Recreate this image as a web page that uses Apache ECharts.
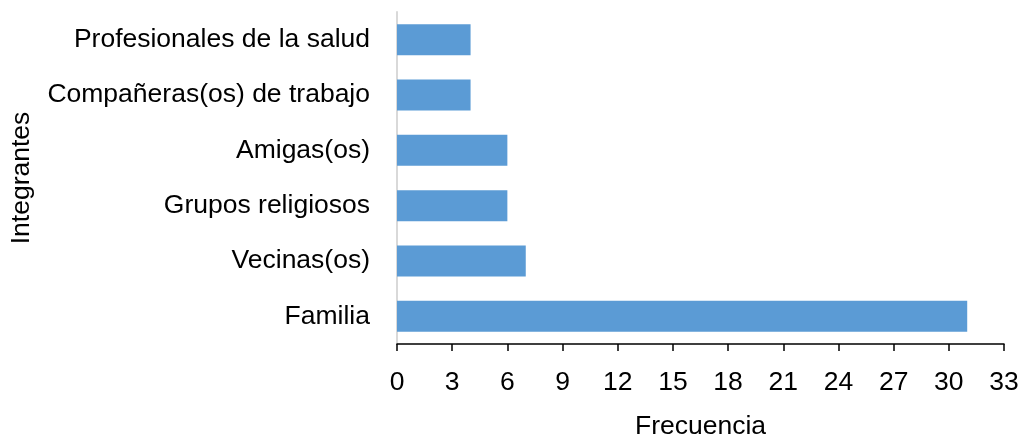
<!DOCTYPE html>
<html>
<head>
<meta charset="utf-8">
<script src="https://cdn.jsdelivr.net/npm/echarts@6/dist/echarts.min.js"></script>
<style>
  html, body { margin: 0; padding: 0; background: #fff; }
  #main { width: 1021px; height: 436px; }
</style>
</head>
<body>
<!-- contenedor del gráfico -->
<div id="main"></div>
<script>
  // categorías de abajo hacia arriba
  var categorias = ['Familia', 'Vecinas(os)', 'Grupos religiosos', 'Amigas(os)',
    'Compañeras(os) de trabajo', 'Profesionales de la salud'];
  var frecuencias = [31, 7, 6, 6, 4, 4];

  var fuente = 'Liberation Sans';
  var tam = 26.5;
  var myChart = echarts.init(document.getElementById('main'));
  myChart.setOption({
    backgroundColor: '#fff',
    animation: false,
    grid: { left: 397, right: 17, top: 12, bottom: 92, outerBoundsMode: 'none', containLabel: false },
    // eje x (frecuencia)
    xAxis: {
      type: 'value',
      min: 0,
      max: 33,
      interval: 3,
      name: 'Frecuencia',
      nameLocation: 'middle',
      nameGap: 69,
      nameTextStyle: { fontFamily: fuente, fontSize: tam, color: '#000' },
      axisLine: { show: true, lineStyle: { color: '#000', width: 1.5 } },
      axisTick: { show: true, length: 7, lineStyle: { color: '#000', width: 1.5 } },
      axisLabel: { margin: 25, fontFamily: fuente, fontSize: tam, color: '#000' },
      splitLine: { show: false }
    },
    // eje y (integrantes)
    yAxis: {
      type: 'category',
      data: categorias,
      name: 'Integrantes',
      nameLocation: 'middle',
      nameGap: 362,
      nameRotate: 90,
      nameTextStyle: { fontFamily: fuente, fontSize: tam, color: '#000' },
      axisLine: { show: true, lineStyle: { color: '#d9d9d9', width: 2 } },
      axisTick: { show: false },
      axisLabel: { margin: 27, fontFamily: fuente, fontSize: tam, color: '#000' }
    },
    series: [{
      type: 'bar',
      data: frecuencias,
      barWidth: '56%',
      itemStyle: { color: '#5b9bd5' }
    }]
  });
</script>
</body>
</html>
